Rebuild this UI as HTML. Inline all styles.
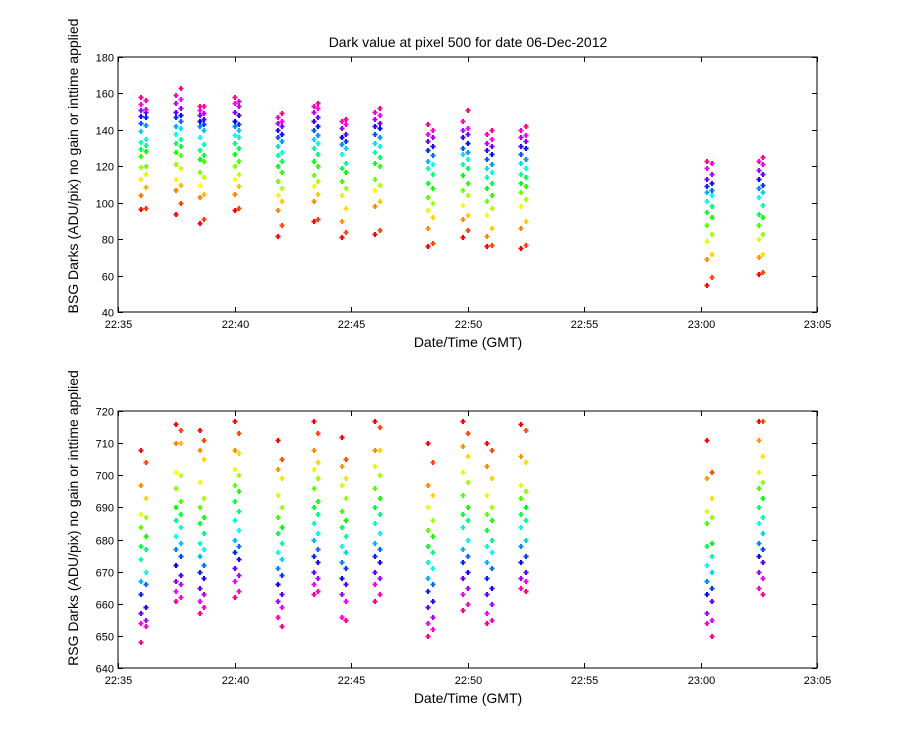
<!DOCTYPE html>
<html><head><meta charset="utf-8"><style>
html,body{margin:0;padding:0;background:#fff;}
svg{display:block;font-family:"Liberation Sans",Arial,sans-serif;}
</style></head><body>
<svg id="chart" width="900" height="750" viewBox="0 0 900 750">
<rect width="900" height="750" fill="#fff"/>
<text x="468" y="47" font-size="14" text-anchor="middle">Dark value at pixel 500 for date 06-Dec-2012</text>
<text transform="translate(78,166) rotate(-90)" font-size="14" text-anchor="middle">BSG Darks (ADU/pix) no gain or inttime applied</text>
<text transform="translate(78,518) rotate(-90)" font-size="14" text-anchor="middle">RSG Darks (ADU/pix) no gain or inttime applied</text>
<text x="468" y="347" font-size="14" text-anchor="middle">Date/Time (GMT)</text>
<text x="468" y="703" font-size="14" text-anchor="middle">Date/Time (GMT)</text>
<g id="top"></g>
<g id="bot"></g>
</svg>
<script>
// minutes after 22:35
const clusterTimes = [1.0,2.5,3.5,5.0,6.85,8.4,9.6,11.05,13.3,14.8,15.85,17.3,25.3,27.5];
const xTickLabels = ["22:35","22:40","22:45","22:50","22:55","23:00","23:05"];
const topYTicks = [40,60,80,100,120,140,160,180];
const botYTicks = [640,650,660,670,680,690,700,710,720];
const topValues = [
[96.6,97.1,104.3,108.6,113,115.8,119.6,120.2,125.6,128.4,129.5,131.7,133.4,135,139.4,142.7,144,147.1,147.5,149.8,150.9,151.5,154.2,156.4,157.9],
[94,100,107,110,113,119,121,126,128,131,133,135,138,141,142,145,147,148,150,152,155,157,159,163],
[89,91,103,105,110,114,117,123,124,126,129,132,136,140,142,143,145,146,148,149,151,153,153],
[96,97,105,109,113,116,120,123,127,130,133,136,137,140,142,143,145,148,150,153,155,156,158],
[82,88,96,101,104,108,112,117,120,123,126,128,131,134,136,138,140,142,144,145,147,149],
[90,91,101,105,109,112,115,120,123,127,130,133,135,137,140,142,145,147,150,152,153,155],
[81,84,90,97,104,108,112,117,119,122,127,130,132,134,136,138,141,143,145,146],
[83,85,98,101,107,110,113,120,122,125,128,131,133,136,138,141,142,144,146,148,150,152],
[76,78,86,92,96,100,103,108,111,116,119,121,123,126,129,131,134,136,138,140,143],
[81,85,91,93,99,104,107,111,115,119,121,124,127,128,130,133,136,138,140,141,145,151],
[76,77,82,86,93,97,101,104,108,111,114,117,119,121,124,127,129,131,133,135,138,140],
[75,77,86,90,98,102,106,109,111,114,116,119,122,124,127,130,131,134,136,137,140,142],
[55,59,69,72,79,83,88,92,95,98,101,104,106,107,109,111,113,116,119,122,123],
[61,62,70,72,80,83,88,92,94,99,103,106,108,110,113,116,118,121,123,125]
];
const botValues = [
[708,704,697,693,688,687,684,681,678,677,674,670,667,666,663,659,657,655,654,653,648],
[716,714,710,710,701,700,696,692,690,688,686,684,681,679,677,675,672,669,667,666,664,662,661],
[714,711,708,705,698,693,690,687,685,682,679,677,675,672,670,668,665,663,661,659,657],
[717,713,708,707,702,700,697,695,692,689,686,683,680,678,676,674,671,669,667,664,662],
[711,705,702,699,694,690,687,684,682,679,676,674,671,669,666,663,661,659,656,653],
[717,713,708,704,702,699,696,692,690,688,685,682,680,677,675,673,670,668,666,664,663],
[712,705,703,699,697,693,689,686,684,681,678,676,673,671,668,666,663,661,656,655],
[717,715,708,708,703,700,696,693,690,688,685,682,679,677,675,673,670,668,666,663,661],
[710,704,697,694,690,686,683,681,678,676,673,671,668,666,664,661,659,656,654,652,650],
[717,713,709,706,701,698,694,690,688,686,684,680,677,675,673,670,668,665,663,660,658],
[710,708,703,699,694,690,688,686,683,680,678,676,673,671,668,665,663,660,657,655,654],
[716,714,706,704,697,695,693,690,688,686,684,680,678,675,673,670,668,667,665,664],
[711,701,699,693,689,687,685,679,678,675,672,670,667,665,663,661,657,655,654,650],
[717,717,711,706,701,698,696,693,690,687,685,682,679,677,675,673,670,668,665,663]
];
const NS="http://www.w3.org/2000/svg";
function mk(tag,attrs,parent){const e=document.createElementNS(NS,tag);for(const k in attrs)e.setAttribute(k,attrs[k]);parent.appendChild(e);return e;}
const X0=118,X1=817;
function xScale(m){return X0+(m/30)*(X1-X0);}
function hsv(h){const f=(n)=>{const k=(n+h/60)%6;return 255*(1-Math.max(0,Math.min(k,4-k,1)));};return `rgb(${Math.round(f(5))},${Math.round(f(3))},${Math.round(f(1))})`;}
function drawPlot(g,yTop,yBot,yMin,yMax,yTicks,values){
  const ys=v=>yBot-(v-yMin)/(yMax-yMin)*(yBot-yTop);
  const frame=mk('rect',{x:X0,y:yTop,width:X1-X0,height:yBot-yTop,fill:'none',stroke:'#000','stroke-width':1},g);
  
  
  xTickLabels.forEach((lab,i)=>{
    const x=Math.round(xScale(i*5))+0.5;
    mk('line',{x1:x,x2:x,y1:yBot,y2:yBot-5,stroke:'#000'},g);
    mk('line',{x1:x,x2:x,y1:yTop,y2:yTop+5,stroke:'#000'},g);
    const t=mk('text',{x:x,y:yBot+16,'font-size':11,'text-anchor':'middle'},g);
    t.textContent=lab;
    
    
  });
  yTicks.forEach(v=>{
    const y=Math.round(ys(v))+0.5;
    mk('line',{x1:X0,x2:X0+5,y1:y,y2:y,stroke:'#000'},g);
    mk('line',{x1:X1,x2:X1-5,y1:y,y2:y,stroke:'#000'},g);
    const t=mk('text',{x:X0-4,y:y+4,'font-size':11,'text-anchor':'end'},g);
    t.textContent=v;
    
    
  });
  values.forEach((arr,c)=>{
    const n=arr.length;
    arr.forEach((v,i)=>{
      const col=hsv(330*i/(n-1));
      const x=Math.round(xScale(clusterTimes[c]+(i%2?0.2:0)));
      const y=Math.round(ys(v));
      const p=mk('path',{d:`M${x-2.5},${y-0.5}h1.5v-1.5h2v1.5h1.5v2h-1.5v1.5h-2v-1.5h-1.5z`,fill:col},g);
      
      
    });
  });
}
drawPlot(document.getElementById('top'),57,312,40,180,topYTicks,topValues);
drawPlot(document.getElementById('bot'),411,668,640,720,botYTicks,botValues);
</script>
</body></html>
